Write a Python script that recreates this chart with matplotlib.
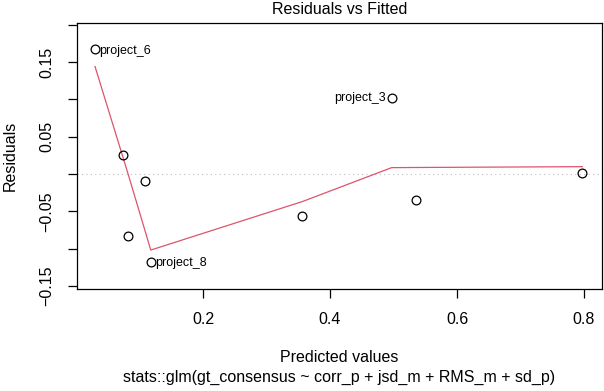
import numpy as np
import matplotlib
matplotlib.use("Agg")
import matplotlib.pyplot as plt

plt.rcParams['font.family'] = ['Liberation Sans', 'DejaVu Sans']

# fitted values and residuals
fitted = [0.030, 0.0745, 0.0824, 0.1087, 0.1177, 0.3564, 0.4971, 0.535, 0.7973]
resid = [0.167, 0.0255, -0.0827, -0.0094, -0.1175, -0.0563, 0.1023, -0.0349, 0.0018]
names = ['project_6', '', '', '', 'project_8', '', 'project_3', '', '']

# smoother (red line) at sorted fitted values
smooth_x = [0.030, 0.0745, 0.0824, 0.1087, 0.1177, 0.3564, 0.4971, 0.535, 0.7973]
smooth_y = [0.144, 0.021, -0.001, -0.076, -0.102, -0.037, 0.0085, 0.0087, 0.0098]

xticks = [0.2, 0.4, 0.6, 0.8]
yticks = [-0.15, -0.10, -0.05, 0.00, 0.05, 0.10, 0.15, 0.20]
ylabels = ['\u22120.15', '', '\u22120.05', '', '0.05', '', '0.15', '']

fig = plt.figure(figsize=(6.04, 3.91), dpi=100)
ax = fig.add_axes([77/604, 1-289/391, (602-77)/604, (289-23)/391])

ax.axhline(0, color='#bebebe', lw=0.8, ls=(0, (1, 3)), zorder=1)
ax.plot(smooth_x, smooth_y, color='#DF536B', lw=0.9, zorder=2)
ax.plot(fitted, resid, 'o', mfc='none', mec='black', mew=0.9, ms=6.3, zorder=3)

for x, y, n in zip(fitted, resid, names):
    if not n:
        continue
    if n == 'project_3':
        ax.annotate(n, (x, y), xytext=(-4, 0), textcoords='offset points',
                    ha='right', va='center', fontsize=9)
    else:
        ax.annotate(n, (x, y), xytext=(3, -1), textcoords='offset points',
                    ha='left', va='center', fontsize=9)

ax.set_xlim(0.0016, 0.8283)
ax.set_ylim(-0.1542, 0.2024)
ax.set_xticks(xticks)
ax.set_xticklabels([str(t) for t in xticks], fontsize=11.5)
ax.set_yticks(yticks)
ax.set_yticklabels(ylabels, fontsize=11.5, rotation=90, va='center')
ax.tick_params(direction='out', length=6.5, width=0.9, pad=10)
for s in ax.spines.values():
    s.set_linewidth(0.9)

fig.text(10/604, 1-156/391, 'Residuals', rotation=90, ha='center', va='center', fontsize=11.5)
fig.text(339.5/604, 1-357/391, 'Predicted values', ha='center', va='center', fontsize=11.5)
fig.text(339.5/604, 1-377/391, 'stats::glm(gt_consensus ~ corr_p + jsd_m + RMS_m + sd_p)',
         ha='center', va='center', fontsize=11.5)
fig.text(339.5/604, 1-9/391, 'Residuals vs Fitted', ha='center', va='center', fontsize=11.5)

fig.savefig('out.png', dpi=100)
